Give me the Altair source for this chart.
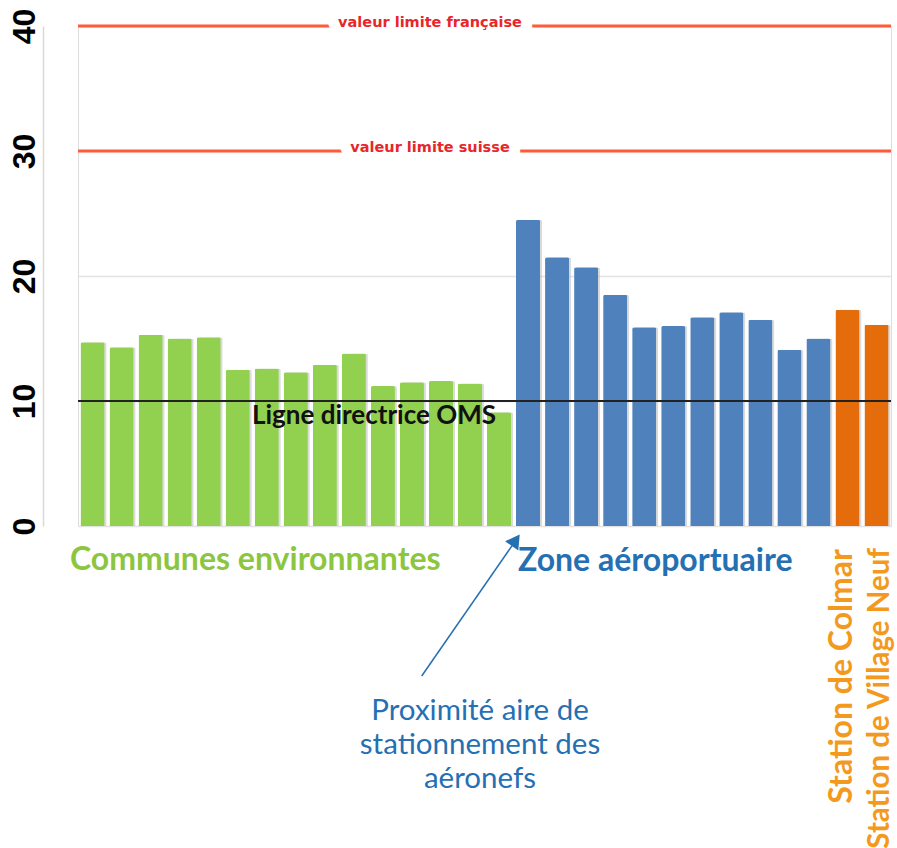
import altair as alt
import pandas as pd

# ---- data ----
green_vals = [14.7, 14.3, 15.3, 15.0, 15.1, 12.5, 12.6, 12.3, 12.9, 13.8, 11.2, 11.5, 11.6, 11.4, 9.1]
blue_vals = [24.5, 21.5, 20.7, 18.5, 15.9, 16.0, 16.7, 17.1, 16.5, 14.1, 15.0]
orange_vals = [17.3, 16.1]
orange_names = ["Colmar", "Village Neuf"]

groups = ["Communes environnantes", "Zone aéroportuaire", "Stations"]
group_colors = ["#92D050", "#4F81BD", "#E46C0A"]

limit_values = [40, 30]
limit_labels = ["valeur limite française", "valeur limite suisse"]
oms_value = [10]
oms_label = ["Ligne directrice OMS"]
y_ticks = [0, 10, 20, 30, 40]

rows = []
for i, v in enumerate(green_vals):
    rows.append({"site": f"C{i+1}", "value": v, "group": groups[0]})
for i, v in enumerate(blue_vals):
    rows.append({"site": f"A{i+1}", "value": v, "group": groups[1]})
for n, v in zip(orange_names, orange_vals):
    rows.append({"site": n, "value": v, "group": groups[2]})
df = pd.DataFrame(rows)
site_order = list(df["site"])

lim_df = pd.DataFrame({"y": limit_values, "label": limit_labels})
oms_df = pd.DataFrame({"y": oms_value, "label": oms_label})

W, H = 813, 500
PL, PT = 78, 26

xscale = alt.Scale(domain=site_order, paddingInner=0.17, paddingOuter=0.085)
yscale = alt.Scale(domain=[0, 40], nice=False)

base = alt.Chart(df)

shadow = base.mark_bar(xOffset=2, color="#b8b8b8", opacity=0.5,
                       cornerRadiusTopLeft=2, cornerRadiusTopRight=2).encode(
    x=alt.X("site:N", sort=site_order, scale=xscale, axis=None),
    y=alt.Y("value:Q", scale=yscale),
)

bars = base.mark_bar(cornerRadiusTopLeft=2, cornerRadiusTopRight=2).encode(
    x=alt.X("site:N", sort=site_order, scale=xscale, axis=None),
    y=alt.Y("value:Q", scale=yscale, title=None,
            axis=alt.Axis(values=y_ticks, offset=35, ticks=False,
                          domainColor="#d9d9d9", domainWidth=1.5,
                          gridColor="#e3e3e3", gridWidth=1.5,
                          labelAngle=270, labelAlign="center", labelBaseline="bottom",
                          labelFont="Liberation Sans", labelFontWeight="bold",
                          labelFontSize=32, labelColor="#000000", labelPadding=2,
                          labelFlush=False)),
    color=alt.Color("group:N", scale=alt.Scale(domain=groups, range=group_colors), legend=None),
)

lim_rules = alt.Chart(lim_df).mark_rule(color="#FF5A3A", strokeWidth=3).encode(
    y=alt.Y("y:Q", scale=yscale)
)
lim_text_bg = alt.Chart(lim_df).mark_text(
    font="DejaVu Sans", fontWeight="bold", fontSize=14.5, color="white",
    stroke="white", strokeWidth=22, align="center", baseline="middle", dy=-3
).encode(y=alt.Y("y:Q", scale=yscale), x=alt.value(352), text="label:N")
lim_text = alt.Chart(lim_df).mark_text(
    font="DejaVu Sans", fontWeight="bold", fontSize=14.5, color="#E8262A",
    align="center", baseline="middle", dy=-3
).encode(y=alt.Y("y:Q", scale=yscale), x=alt.value(352), text="label:N")

oms_rule = alt.Chart(oms_df).mark_rule(color="#222222", strokeWidth=2).encode(
    y=alt.Y("y:Q", scale=yscale)
)
oms_text = alt.Chart(oms_df).mark_text(
    font="Lato", fontWeight="bold", fontSize=26, color="#111111",
    align="center", baseline="middle", dy=15
).encode(y=alt.Y("y:Q", scale=yscale), x=alt.value(374 - PL), text="label:N")

grp_df = pd.DataFrame({"label": groups[:2]})
communes = alt.Chart(grp_df).transform_filter(alt.datum.label == groups[0]).mark_text(
    font="Lato", fontWeight="bold", fontSize=32, color="#8CC63F",
    align="left", baseline="middle"
).encode(x=alt.value(70 - PL), y=alt.value(560 - PT), text="label:N")
zone = alt.Chart(grp_df).transform_filter(alt.datum.label == groups[1]).mark_text(
    font="Lato", fontWeight="bold", fontSize=32, color="#2570B3",
    align="left", baseline="middle"
).encode(x=alt.value(518 - PL), y=alt.value(561 - PT), text="label:N")

st_df = pd.DataFrame({"label": ["Station de " + n for n in orange_names]})
st1 = alt.Chart(st_df).transform_filter(alt.datum.label == "Station de Colmar").mark_text(
    font="Lato", fontWeight="bold", fontSize=32, color="#F39A1E",
    align="right", baseline="middle", angle=270
).encode(x=alt.value(842 - PL), y=alt.value(549 - PT), text="label:N")
st2 = alt.Chart(st_df).transform_filter(alt.datum.label == "Station de Village Neuf").mark_text(
    font="Lato", fontWeight="bold", fontSize=29.5, color="#F39A1E",
    align="right", baseline="middle", angle=270
).encode(x=alt.value(880 - PL), y=alt.value(548 - PT), text="label:N")

note_df = pd.DataFrame({"label": ["Proximité aire de\nstationnement des\naéronefs"]})
note = alt.Chart(note_df).mark_text(
    font="Lato", fontSize=29.5, color="#2570B3", align="center", baseline="middle",
    lineBreak="\n", lineHeight=34
).encode(x=alt.value(480 - PL), y=alt.value(711 - PT), text="label:N")

arrow_line = alt.Chart(note_df).mark_rule(color="#2570B3", strokeWidth=1.5).encode(
    x=alt.value(421.7 - PL), y=alt.value(676 - PT),
    x2=alt.value(516 - PL), y2=alt.value(540 - PT)
)
arrow_head = alt.Chart(note_df).mark_point(
    shape="triangle-up", filled=True, color="#2570B3", opacity=1, size=260, angle=35
).encode(x=alt.value(515.7 - PL), y=alt.value(540.2 - PT))

chart = alt.layer(
    shadow, bars, lim_rules, lim_text_bg, lim_text, oms_rule, oms_text,
    communes, zone, st1, st2, note, arrow_line, arrow_head
).properties(
    width=W, height=H,
    padding={"left": PL, "top": PT, "right": 897 - PL - W, "bottom": 848 - PT - H},
    autosize=alt.AutoSizeParams(type="none"),
).configure_view(stroke=None).configure(background="white")

chart.save("out.html", embed_options={"renderer": "svg", "actions": False})
